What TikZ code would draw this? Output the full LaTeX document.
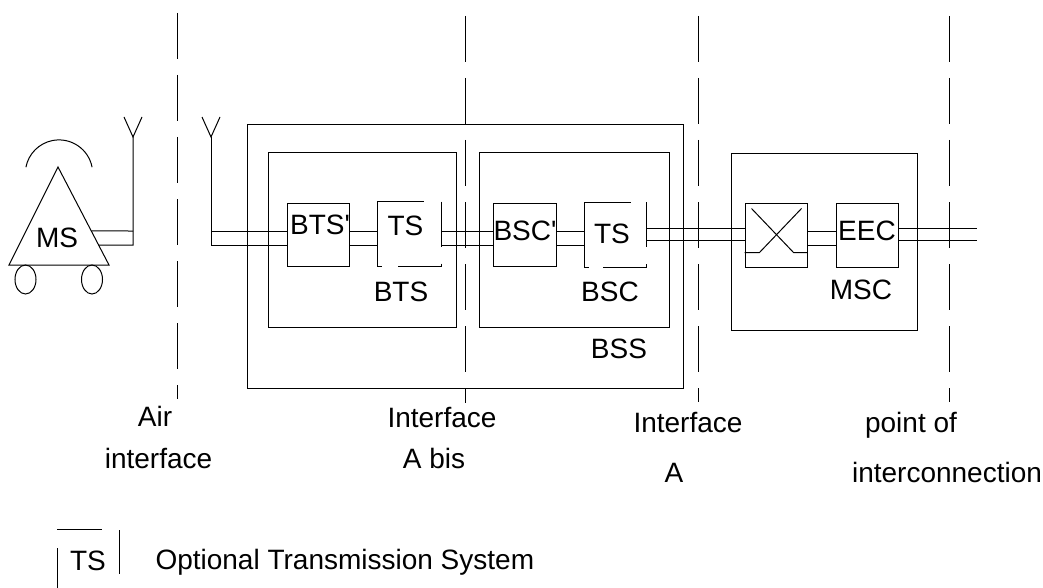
\documentclass[tikz,border=0pt]{standalone}
\usepackage{fontspec}
\setmainfont{Liberation Sans}[Ligatures=TeXOff]
\usetikzlibrary{calc}
\newcommand{\tsframe}[1]{%
  \draw ([xshift=4pt]#1.south west) -- (#1.south west) -- (#1.north west) -- ([xshift=46pt]#1.north west);
  \draw (#1.north east) -- ([yshift=-45pt]#1.north east);
  \draw ([yshift=3pt]#1.south east) -- (#1.south east) -- ([xshift=-44pt]#1.south east);}
\begin{document}
\begin{tikzpicture}[x=1pt, y=-1pt, line width=1pt]
            \tikzset{box/.style={draw, rectangle, inner sep=0pt},
                     tsbox/.style={rectangle, inner sep=0pt, minimum width=63pt, minimum height=64pt},
                     lbl/.style={font=\fontsize{28}{34}\selectfont, inner sep=0pt, anchor=base},
                     iface/.style={dash pattern=on 46pt off 16pt, line width=0.9pt}}
            \useasboundingbox (0,0) rectangle (1043,588);
            \foreach \ix/\iy/\iz in {177/13/399, 465/16/403, 698/16/402, 949/16/402}
                \draw[iface] (\ix,\iy) -- (\ix,\iz);
            \coordinate (hi) at (0,231);
            \coordinate (lo) at (0,245);
            \coordinate (hia) at (0,228);
            \coordinate (loa) at (0,240);
            \coordinate (lineend) at (977,0);
            \draw (58,167) coordinate (apex) -- (109,265) coordinate (msr) -- (9,265) -- cycle;
            \draw (59,173.6) ++(11:33.7pt) arc[start angle=11, end angle=169, radius=33.7pt];
            \draw (25.5,279.5) ellipse[x radius=10.5pt, y radius=14.5pt];
            \draw (92,279.5) ellipse[x radius=10.5pt, y radius=14.5pt];
            \node[lbl] (ms) at (57,247) {MS};
            \coordinate (antms) at (133,137);
            \coordinate (antbts) at (211,137);
            \foreach \a in {antms, antbts}
                \draw ([shift={(-9,-20)}]\a) -- (\a) -- ++(9,-20);
            \node[box, minimum width=436pt, minimum height=263pt] (bss) at (465,256.5) {};
            \node[box, minimum width=188pt, minimum height=174pt] (bts) at (362,240) {};
            \node[box, minimum width=190pt, minimum height=174pt] (bsc) at (574,240) {};
            \node[box, minimum width=186pt, minimum height=176pt] (msc) at (824,242) {};
            \node[box, minimum width=62pt, minimum height=63pt] (btsp) at (318,234.5) {};
            \node[tsbox] (tsa) at (409.5,234) {};
            \node[box, minimum width=63pt, minimum height=63pt] (bscp) at (524.5,234.5) {};
            \node[tsbox, minimum width=61pt] (tsb) at (615.5,234.5) {};
            \node[box, minimum width=62pt, minimum height=64pt] (sw) at (776,235) {};
            \node[box, minimum width=62pt, minimum height=64pt] (eec) at (867,235) {};
            \tsframe{tsa}
            \tsframe{tsb}
            \draw ($(sw.north west)+(7,6)$) -- ($(sw.north west)+(49,50)$) -- (sw.east |- {$(sw.north west)+(0,50)$});
            \draw ($(sw.north west)+(57,6)$) -- ($(sw.north west)+(15,50)$) -- ($(sw.north west)+(0,50)$);
            \draw ($(apex)!0.653!(msr)$) -- (antms |- hi);
            \draw ($(apex)!0.796!(msr)$) -- (antms |- lo) -- (antms);
            \draw (antbts) -- (antbts |- lo) -- (btsp.west |- lo);
            \draw (antbts |- hi) -- (btsp.west |- hi);
            \foreach \a/\b in {btsp/tsa, tsa/bscp, bscp/tsb, sw/eec}
                \foreach \l in {hi, lo}
                    \draw (\a.east |- \l) -- (\b.west |- \l);
            \foreach \l in {hia, loa} {
                \draw (tsb.east |- \l) -- (sw.west |- \l);
                \draw (eec.east |- \l) -- (lineend |- \l);
            }
            \node[lbl] (btspt) at (320,234) {BTS'};
            \node[lbl] (tsat) at (405.5,235) {TS};
            \node[lbl] (bscpt) at (525,240) {BSC'};
            \node[lbl] (tsbt) at (612,243) {TS};
            \node[lbl] (eect) at (867,240) {EEC};
            \node[lbl] (btst) at (401,301) {BTS};
            \node[lbl] (bsct) at (610,301) {BSC};
            \node[lbl] (msct) at (861,299) {MSC};
            \node[lbl] (bsst) at (619,358) {BSS};
            \node[lbl] (air) at (155,426) {Air};
            \node[lbl] (airb) at (158.5,468) {interface};
            \node[lbl] (abis) at (442,427) {Interface};
            \node[lbl] (abisb) at (434,468) {A bis};
            \node[lbl] (ia) at (688,432) {Interface};
            \node[lbl] (iab) at (674,482) {A};
            \node[lbl] (poi) at (911,432) {point of};
            \node[lbl] (poib) at (947,482) {interconnection};
            \draw (57,529) -- (102,529);
            \draw (119,530) -- (119,574);
            \draw (57,548) -- (57,595);
            \node[lbl] (legts) at (88,570) {TS};
            \node[lbl, anchor=base west] (legtext) at (155,569) {Optional Transmission System};
        \end{tikzpicture}
\end{document}
